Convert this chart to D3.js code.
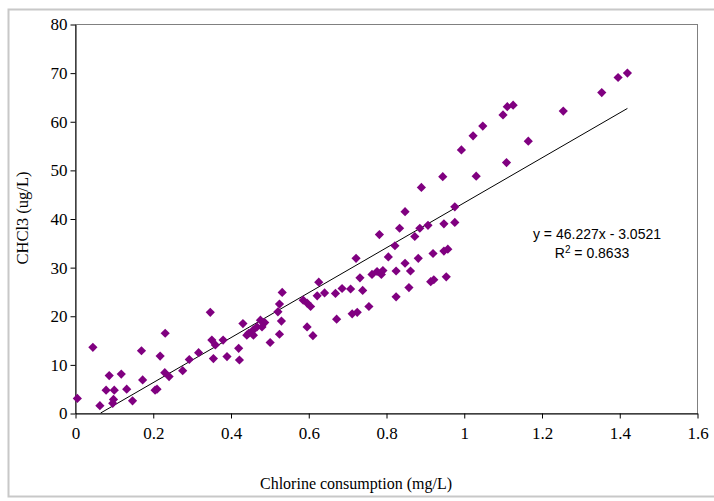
<!DOCTYPE html>
<html>
<head>
<meta charset="utf-8">
<script src="https://cdn.jsdelivr.net/npm/d3@7"></script>
<style>
  html, body { margin: 0; padding: 0; background: #ffffff; }
  svg { display: block; }
</style>
</head>
<body>
<svg id="chart" width="714" height="501"></svg>
<script>
// ---- data ----
const chlorine = [
  0.006, 0.046, 0.064, 0.080, 0.088, 0.097, 0.099, 0.101, 0.119, 0.133,
  0.148, 0.171, 0.174, 0.206, 0.211, 0.219, 0.232, 0.231, 0.242, 0.277,
  0.294, 0.318, 0.348, 0.352, 0.356, 0.361, 0.381, 0.391, 0.421, 0.423,
  0.432, 0.442, 0.447, 0.459, 0.459, 0.468, 0.477, 0.481, 0.488, 0.502,
  0.522, 0.526, 0.526, 0.531, 0.533, 0.587, 0.597, 0.597, 0.606, 0.612,
  0.623, 0.627, 0.642, 0.670, 0.673, 0.687, 0.709, 0.713, 0.723, 0.726,
  0.733, 0.740, 0.756, 0.764, 0.777, 0.783, 0.788, 0.792, 0.806, 0.823,
  0.826, 0.826, 0.835, 0.849, 0.849, 0.859, 0.863, 0.874, 0.883, 0.887,
  0.891, 0.908, 0.915, 0.921, 0.923, 0.946, 0.949, 0.949, 0.955, 0.959,
  0.977, 0.977, 0.994, 1.024, 1.032, 1.049, 1.101, 1.110, 1.112, 1.127,
  1.166, 1.256, 1.355, 1.397, 1.421
];
const chcl3 = [
  3.0, 13.5, 1.5, 4.7, 7.7, 2.0, 2.8, 4.7, 8.0, 4.9,
  2.5, 12.8, 6.8, 4.7, 4.9, 11.7, 16.4, 8.3, 7.5, 8.7,
  11.0, 12.4, 20.7, 15.0, 11.2, 14.0, 15.0, 11.6, 13.3, 10.9,
  18.4, 16.0, 16.4, 16.0, 17.1, 17.7, 19.1, 17.7, 18.6, 14.5,
  20.8, 16.2, 22.4, 18.9, 24.8, 23.2, 22.6, 17.7, 21.9, 15.9,
  24.1, 26.9, 24.7, 24.6, 19.3, 25.6, 25.5, 20.4, 31.8, 20.7,
  27.8, 25.2, 21.9, 28.5, 29.1, 36.7, 28.5, 29.3, 32.1, 34.4,
  29.2, 23.9, 38.0, 41.4, 30.8, 25.8, 29.2, 36.3, 31.8, 38.0,
  46.4, 38.6, 27.0, 32.8, 27.4, 48.6, 33.3, 38.9, 28.0, 33.7,
  39.2, 42.4, 54.1, 57.0, 48.7, 59.0, 61.3, 51.5, 63.0, 63.3,
  55.9, 62.1, 65.9, 69.0, 69.9
];
const xTicks = [0, 0.2, 0.4, 0.6, 0.8, 1, 1.2, 1.4, 1.6];
const yTicks = [0, 10, 20, 30, 40, 50, 60, 70, 80];
const trendSlope = 46.227;
const trendIntercept = -3.0521;
const rSquared = 0.8633;
const xTitle = "Chlorine consumption (mg/L)";
const yTitle = "CHCl3 (ug/L)";

// ---- layout ----
const W = 714, H = 501;
const plot = { left: 75, top: 24, right: 697, bottom: 413 };
const svg = d3.select("#chart");

// outer chart frame
svg.append("rect")
  .attr("x", 8.5).attr("y", 9.5)
  .attr("width", W + 10).attr("height", 487)
  .attr("fill", "#ffffff")
  .attr("stroke", "#c8c8c8").attr("stroke-width", 2);

const x = d3.scaleLinear().domain([0, 1.6]).range([plot.left, plot.right]);
const y = d3.scaleLinear().domain([0, 80]).range([plot.bottom, plot.top]);

// plot area border (top/right gray)
svg.append("rect")
  .attr("x", plot.left + 0.5).attr("y", plot.top + 0.5)
  .attr("width", plot.right - plot.left).attr("height", plot.bottom - plot.top)
  .attr("fill", "none").attr("stroke", "#808080").attr("stroke-width", 1);

const serif = "'Liberation Serif', 'Times New Roman', serif";

// axes
const xAxis = d3.axisBottom(x).tickValues(xTicks).tickFormat(d => String(d))
  .tickSizeInner(5).tickSizeOuter(0).tickPadding(8);
const gx = svg.append("g")
  .attr("transform", `translate(0.5,${plot.bottom + 0.5})`)
  .call(xAxis);
const yAxis = d3.axisLeft(y).tickValues(yTicks).tickFormat(d => String(d))
  .tickSizeInner(5).tickSizeOuter(0).tickPadding(3);
const gy = svg.append("g")
  .attr("transform", `translate(${plot.left + 0.5},0.5)`)
  .call(yAxis);

[gx, gy].forEach(g => {
  g.selectAll("path.domain").attr("stroke", "#000").attr("stroke-width", 1);
  g.selectAll(".tick line").attr("stroke", "#000");
  g.selectAll(".tick text")
    .attr("fill", "#000")
    .style("font-family", serif)
    .style("font-size", "17px");
});

// trend line: from the data's x extent, clipped at y >= 0
const [xmin, xmax] = d3.extent(chlorine);
const xStart = Math.max(xmin, -trendIntercept / trendSlope);
const trendPts = [xStart, xmax].map(v => [v, trendSlope * v + trendIntercept]);
svg.append("path")
  .attr("d", d3.line().x(d => x(d[0])).y(d => y(d[1]))(trendPts))
  .attr("fill", "none").attr("stroke", "#000").attr("stroke-width", 1);

// markers (diamonds)
const r = 4.6;
const pts = chlorine.map((v, i) => [v, chcl3[i]]);
svg.append("g").selectAll("path")
  .data(pts)
  .join("path")
  .attr("d", d => {
    const cx = x(d[0]), cy = y(d[1]);
    return `M${cx},${cy - r}L${cx + r},${cy}L${cx},${cy + r}L${cx - r},${cy}Z`;
  })
  .attr("fill", "#800080");

// equation label
const sans = "'Liberation Sans', Arial, sans-serif";
svg.append("text")
  .attr("x", 597).attr("y", 239)
  .attr("text-anchor", "middle")
  .style("font-family", sans).style("font-size", "14px").attr("fill", "#000")
  .text(`y = ${trendSlope}x - ${Math.abs(trendIntercept)}`);
const r2 = svg.append("text")
  .attr("x", 592).attr("y", 258)
  .attr("text-anchor", "middle")
  .style("font-family", sans).style("font-size", "14px").attr("fill", "#000");
r2.append("tspan").text("R");
r2.append("tspan").attr("dy", -5).style("font-size", "10px").text("2");
r2.append("tspan").attr("dy", 5).text(` = ${rSquared}`);

// axis titles
svg.append("text")
  .attr("x", (plot.left + plot.right) / 2 - 30).attr("y", 489)
  .attr("text-anchor", "middle")
  .style("font-family", serif).style("font-size", "16px").attr("fill", "#000")
  .text(xTitle);
svg.append("text")
  .attr("transform", `translate(28,218) rotate(-90)`)
  .attr("text-anchor", "middle")
  .style("font-family", serif).style("font-size", "16.5px").attr("fill", "#000")
  .text(yTitle);
</script>
</body>
</html>
